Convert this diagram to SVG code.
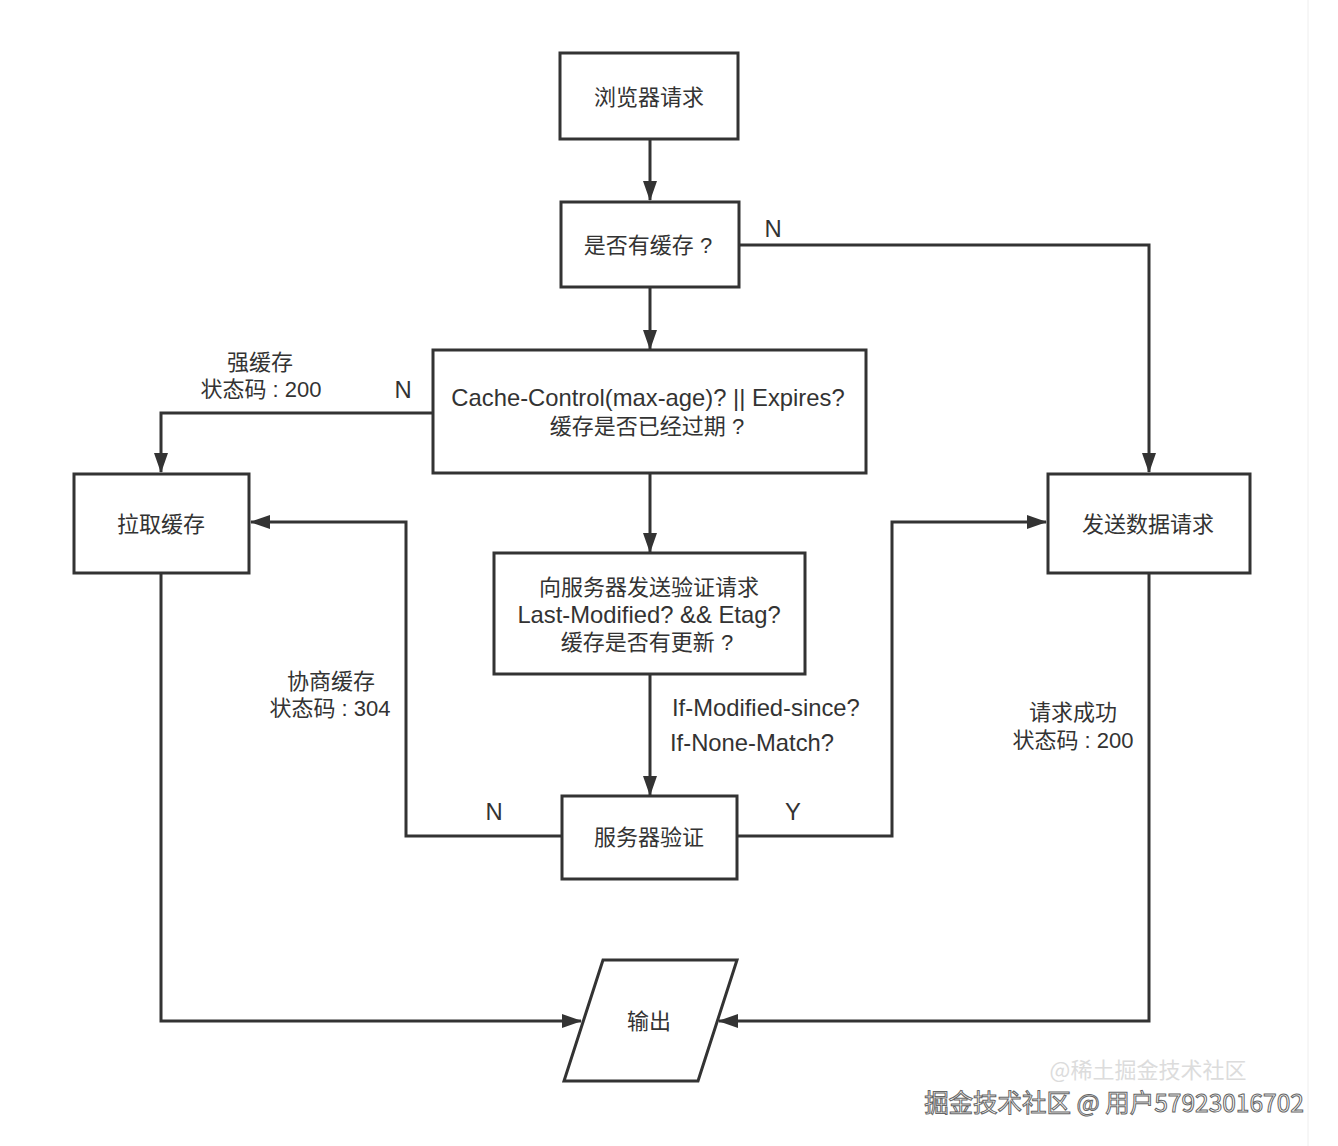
<svg xmlns="http://www.w3.org/2000/svg" width="1338" height="1146" viewBox="0 0 1338 1146">
<defs>
<style>
.box{fill:#fff;stroke:#333;stroke-width:3}
.ln{fill:none;stroke:#333;stroke-width:3}
.t{font-family:"Liberation Sans","Noto Sans CJK SC",sans-serif;font-size:22px;fill:#333;text-anchor:middle}
.e{font-size:23.8px}
.l{text-anchor:start}
</style>
<marker id="ah" viewBox="0 0 20 14" refX="19" refY="7" markerWidth="20" markerHeight="14" markerUnits="userSpaceOnUse" orient="auto">
<path d="M0,0 L20,7 L0,14 Z" fill="#333"/>
</marker>
</defs>
<rect width="1338" height="1146" fill="#fff"/>
<line x1="1308" y1="0" x2="1308" y2="1146" stroke="#eee" stroke-width="1"/>

<g id="connectors">
<path class="ln" d="M650,139 V200" marker-end="url(#ah)"/>
<path class="ln" d="M739,245 H1149 V472" marker-end="url(#ah)"/>
<path class="ln" d="M650,287 V349" marker-end="url(#ah)"/>
<path class="ln" d="M433,413 H161 V472" marker-end="url(#ah)"/>
<path class="ln" d="M650,473 V552" marker-end="url(#ah)"/>
<path class="ln" d="M650,674 V795" marker-end="url(#ah)"/>
<path class="ln" d="M562,836 H406 V522 H251" marker-end="url(#ah)"/>
<path class="ln" d="M737,836 H892 V522 H1046" marker-end="url(#ah)"/>
<path class="ln" d="M161,573 V1021 H581" marker-end="url(#ah)"/>
<path class="ln" d="M1149,573 V1021 H719" marker-end="url(#ah)"/>
<text class="t e" x="773" y="237">N</text>
<text class="t e" x="403" y="398">N</text>
<text class="t" x="260" y="370">强缓存</text>
<text class="t" x="261" y="397">状态码 : 200</text>
<text class="t e l" x="672" y="716">If-Modified-since?</text>
<text class="t e l" x="670" y="751">If-None-Match?</text>
<text class="t" x="331" y="689">协商缓存</text>
<text class="t" x="330" y="716">状态码 : 304</text>
<text class="t e" x="494" y="820">N</text>
<text class="t e" x="793" y="820">Y</text>
<text class="t" x="1073" y="720">请求成功</text>
<text class="t" x="1073" y="748">状态码 : 200</text>
</g>

<g id="n1"><rect class="box" x="560" y="53" width="178" height="86"/><text class="t" x="649" y="105">浏览器请求</text></g>
<g id="n2"><rect class="box" x="561" y="202" width="178" height="85"/><text class="t" x="648" y="253">是否有缓存 ?</text></g>
<g id="n3"><rect class="box" x="433" y="350" width="433" height="123"/><text class="t e" x="648" y="406">Cache-Control(max-age)? || Expires?</text><text class="t" x="647" y="434">缓存是否已经过期 ?</text></g>
<g id="n4"><rect class="box" x="74" y="474" width="175" height="99"/><text class="t" x="161" y="532">拉取缓存</text></g>
<g id="n5"><rect class="box" x="1048" y="474" width="202" height="99"/><text class="t" x="1148" y="532">发送数据请求</text></g>
<g id="n6"><rect class="box" x="494" y="553" width="311" height="121"/><text class="t" x="649" y="595">向服务器发送验证请求</text><text class="t e" x="649" y="623">Last-Modified? &amp;&amp; Etag?</text><text class="t" x="647" y="650">缓存是否有更新 ?</text></g>
<g id="n7"><rect class="box" x="562" y="796" width="175" height="83"/><text class="t" x="649" y="845">服务器验证</text></g>
<g id="n8"><path class="box" d="M603,960 H737 L698,1081 H564 Z"/><text class="t" x="649" y="1029">输出</text></g>

<g id="watermark">
<text x="1148" y="1078" font-family="'Noto Sans CJK SC',sans-serif" font-size="22" fill="#dcdcdc" text-anchor="middle">@稀土掘金技术社区</text>
<text x="1114" y="1112" font-family="'Noto Sans CJK SC',sans-serif" font-size="24.5" fill="#fff" stroke="#666" stroke-width="1" text-anchor="middle">掘金技术社区 @ 用户57923016702</text>
</g>
</svg>
